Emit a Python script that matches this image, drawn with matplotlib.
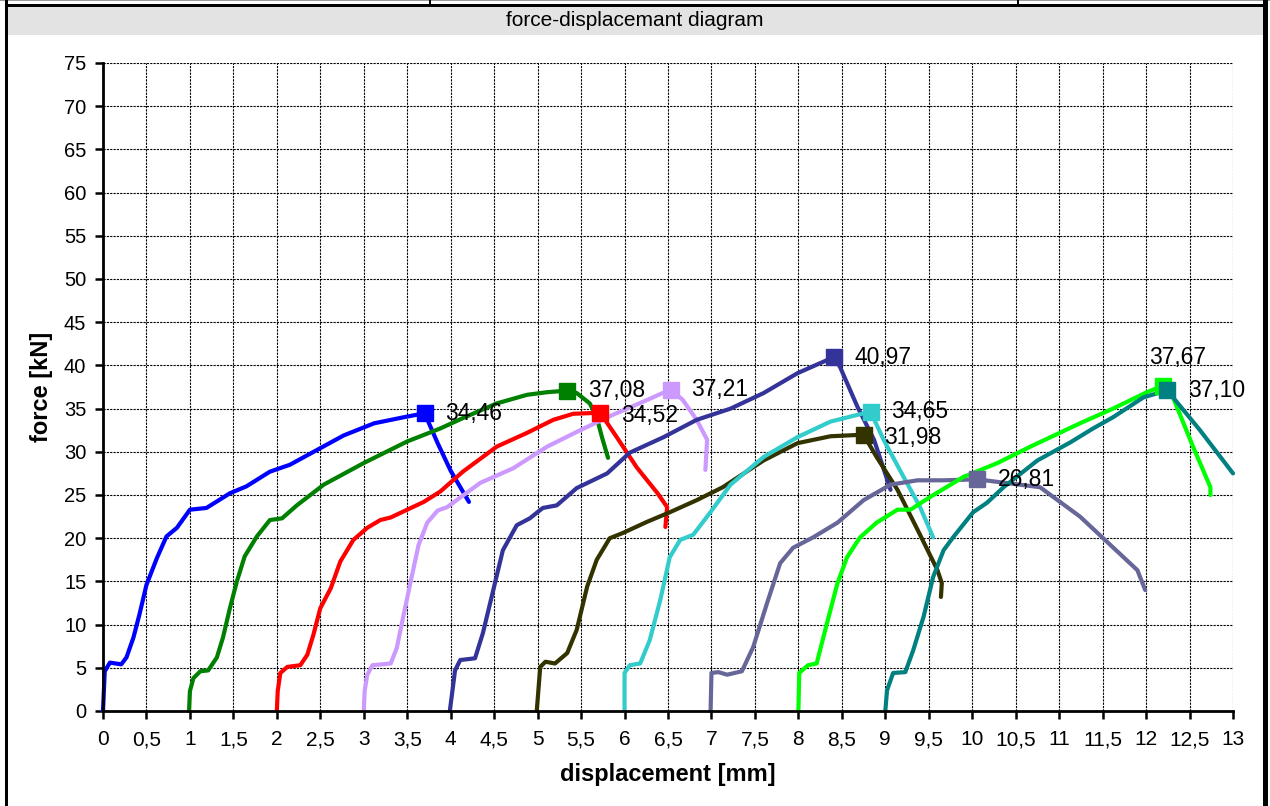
import matplotlib.pyplot as plt
from matplotlib.patches import Rectangle
from matplotlib.ticker import MultipleLocator, FuncFormatter

plt.rcParams['font.family'] = ['Liberation Sans', 'DejaVu Sans']

# curve data: displacement [mm], force [kN]
blue_x = [0, 0.02, 0.08, 0.21, 0.27, 0.35, 0.42, 0.5, 0.62, 0.73, 0.85, 1.0, 1.19, 1.46, 1.65, 1.92, 2.15,
          2.46, 2.77, 3.12, 3.46, 3.7, 3.85, 4.0, 4.21]
blue_f = [0, 4.6, 5.6, 5.4, 6.2, 8.5, 11.2, 14.6, 17.7, 20.2, 21.2, 23.3, 23.5, 25.2, 26.0, 27.7, 28.5,
          30.2, 31.9, 33.3, 34.0, 34.46, 31.0, 27.8, 24.2]

green_x = [0.99, 1.0, 1.04, 1.12, 1.21, 1.31, 1.38, 1.46, 1.54, 1.63, 1.77, 1.92, 2.06, 2.23, 2.54, 3.0,
           3.5, 3.88, 4.14, 4.53, 4.88, 5.11, 5.34, 5.45, 5.6, 5.68, 5.74, 5.81]
green_f = [0, 2.3, 3.8, 4.6, 4.7, 6.2, 8.5, 11.9, 15.0, 17.9, 20.2, 22.1, 22.3, 23.8, 26.2, 28.7,
           31.2, 32.7, 33.9, 35.6, 36.6, 36.9, 37.08, 36.8, 35.6, 34.0, 31.7, 29.3]

red_x = [2.0, 2.01, 2.04, 2.12, 2.27, 2.35, 2.42, 2.5, 2.62, 2.73, 2.88, 3.04, 3.19, 3.31, 3.5, 3.69,
         3.88, 4.14, 4.53, 4.88, 5.18, 5.41, 5.72, 5.91, 6.14, 6.38, 6.49, 6.47]
red_f = [0, 2.3, 4.4, 5.1, 5.3, 6.5, 8.8, 11.9, 14.2, 17.3, 19.8, 21.2, 22.1, 22.4, 23.3, 24.2,
         25.4, 27.7, 30.6, 32.2, 33.7, 34.4, 34.52, 31.7, 28.2, 25.2, 23.6, 21.3]

lilac_x = [3.0, 3.01, 3.04, 3.1, 3.31, 3.38, 3.46, 3.54, 3.63, 3.73, 3.85, 3.96, 4.34, 4.72, 5.11,
           5.49, 5.87, 6.26, 6.53, 6.67, 6.83, 6.95, 6.93]
lilac_f = [0, 2.3, 4.2, 5.3, 5.5, 7.3, 11.2, 15.0, 19.2, 21.8, 23.2, 23.6, 26.4, 28.1, 30.6,
           32.5, 34.3, 36.0, 37.21, 36.0, 33.7, 31.4, 27.9]

navy_x = [3.99, 4.05, 4.11, 4.28, 4.37, 4.49, 4.6, 4.76, 4.91, 5.06, 5.22, 5.45, 5.8, 6.06, 6.45,
          6.83, 7.22, 7.6, 7.99, 8.41, 8.48, 8.68, 8.87, 9.06]
navy_f = [0, 4.7, 5.9, 6.1, 9.0, 14.0, 18.6, 21.5, 22.3, 23.5, 23.8, 25.8, 27.5, 29.9, 31.7,
          33.7, 35.0, 36.8, 39.1, 40.97, 39.8, 35.2, 31.4, 25.6]

olive_x = [4.99, 5.03, 5.09, 5.2, 5.34, 5.45, 5.57, 5.68, 5.83, 5.98, 6.26, 6.52, 6.83, 7.13, 7.6,
           7.99, 8.37, 8.75, 8.9, 9.14, 9.37, 9.6, 9.65, 9.64]
olive_f = [0, 5.1, 5.7, 5.5, 6.7, 9.4, 14.4, 17.5, 20.0, 20.6, 21.9, 23.0, 24.4, 25.9, 29.0,
           31.0, 31.8, 31.98, 29.4, 25.6, 21.0, 16.3, 14.8, 13.2]

cyan_x = [6.0, 6.0, 6.06, 6.18, 6.29, 6.41, 6.52, 6.64, 6.79, 6.98, 7.22, 7.6, 7.99, 8.37, 8.83,
          8.98, 9.21, 9.4, 9.55]
cyan_f = [0, 4.4, 5.3, 5.5, 8.2, 12.8, 17.8, 19.8, 20.4, 22.9, 26.2, 29.4, 31.7, 33.5, 34.65,
          31.4, 27.1, 23.6, 20.1]

slate_x = [6.99, 7.0, 7.08, 7.18, 7.35, 7.48, 7.64, 7.79, 7.94, 8.17, 8.45, 8.75, 9.06, 9.37, 9.67,
           10.06, 10.78, 11.24, 11.9, 11.99]
slate_f = [0, 4.4, 4.5, 4.2, 4.6, 7.4, 12.5, 17.1, 18.9, 20.1, 21.8, 24.4, 26.2, 26.7, 26.7,
           26.81, 25.9, 22.5, 16.3, 14.0]

lime_x = [8.0, 8.01, 8.11, 8.21, 8.33, 8.45, 8.56, 8.71, 8.9, 9.14, 9.29, 9.52, 9.9, 10.29, 10.67,
          11.24, 11.62, 12.01, 12.2, 12.31, 12.54, 12.74, 12.74]
lime_f = [0, 4.4, 5.3, 5.5, 10.2, 14.8, 17.8, 20.1, 21.8, 23.3, 23.3, 24.8, 27.1, 28.7, 30.6,
          33.3, 35.0, 36.9, 37.67, 36.3, 30.6, 25.9, 25.0]

teal_x = [9.0, 9.02, 9.09, 9.23, 9.32, 9.44, 9.55, 9.67, 9.78, 10.01, 10.17, 10.36, 10.75, 11.13,
          11.39, 11.62, 11.97, 12.24, 12.31, 12.62, 13.0]
teal_f = [0, 2.4, 4.4, 4.5, 7.0, 10.9, 15.5, 18.6, 20.1, 23.0, 24.1, 25.9, 29.0, 31.1,
          32.7, 34.0, 36.3, 37.1, 36.3, 32.5, 27.5]

# maximum force of each specimen
peak_x = [3.7, 5.34, 5.72, 6.53, 8.41, 8.75, 8.83, 10.06, 12.2, 12.24]
peak_f = [34.46, 37.08, 34.52, 37.21, 40.97, 31.98, 34.65, 26.81, 37.67, 37.10]

curves = [(blue_x, blue_f), (green_x, green_f), (red_x, red_f), (lilac_x, lilac_f),
          (navy_x, navy_f), (olive_x, olive_f), (cyan_x, cyan_f), (slate_x, slate_f),
          (lime_x, lime_f), (teal_x, teal_f)]
colors = ['#0000FF', '#008000', '#FF0000', '#CC99FF', '#333399', '#333300',
          '#33CCCC', '#666699', '#00FF00', '#008080']

W, H = 1270, 806
fig = plt.figure(figsize=(W / 100, H / 100), dpi=100)


def px_rect(x0, y0, x1, y1, color):
    fig.add_artist(Rectangle((x0 / W, 1 - y1 / H), (x1 - x0) / W, (y1 - y0) / H,
                             transform=fig.transFigure, facecolor=color, edgecolor='none'))


# frame and title band
px_rect(8, 7, 1263, 35, '#e3e3e3')
px_rect(0, 0, W, 1, '#9a9a9a')
px_rect(5, 4, 1268, 7, 'black')
px_rect(5, 0, 8, H, 'black')
px_rect(1263, 0, 1268, H, 'black')
px_rect(429, 0, 431, 5, 'black')
px_rect(1017, 0, 1019, 5, 'black')
fig.text(635 / W, 1 - 21 / H, 'force-displacemant diagram', ha='center', va='center', fontsize=15)

ax = fig.add_axes([103 / W, 95 / H, 1130 / W, 648 / H])
ax.set_xlim(0, 13)
ax.set_ylim(0, 75)
ax.xaxis.set_major_locator(MultipleLocator(0.5))
ax.yaxis.set_major_locator(MultipleLocator(5))
ax.xaxis.set_major_formatter(FuncFormatter(lambda v, p: f'{v:g}'.replace('.', ',')))
ax.grid(True, color='black', linestyle=(0, (2, 1)), linewidth=0.8)
ax.set_axisbelow(True)
for s in ['top', 'right']:
    ax.spines[s].set_visible(False)
for s in ['left', 'bottom']:
    ax.spines[s].set_linewidth(2)
ax.tick_params(axis='both', direction='out', length=6, width=1.8)
ax.tick_params(axis='x', labelsize=15, pad=8)
ax.tick_params(axis='y', labelsize=14.5, pad=6)

for (xs, fs), c in zip(curves, colors):
    ax.plot(xs, fs, color=c, linewidth=3.0, solid_capstyle='round', solid_joinstyle='round',
            clip_on=False)

for i, (px, pf) in enumerate(zip(peak_x, peak_f)):
    ax.plot(px, pf, marker='s', markersize=11, color=colors[i], zorder=4)
    lab = f'{pf:.2f}'.replace('.', ',')
    if i == 8:
        ax.annotate(lab, (px, pf), xytext=(10, 20), textcoords='offset points',
                    ha='center', va='center', fontsize=16.5)
    else:
        dy = -2 if i in (2, 5) else 0
        ax.annotate(lab, (px, pf), xytext=(15, dy), textcoords='offset points',
                    ha='left', va='center', fontsize=16.5)

ax.set_xlabel('displacement [mm]', fontsize=17, fontweight='bold', labelpad=10)
ax.set_ylabel('force [kN]', fontsize=17, fontweight='bold', labelpad=8)

fig.savefig('out.png', dpi=100)
